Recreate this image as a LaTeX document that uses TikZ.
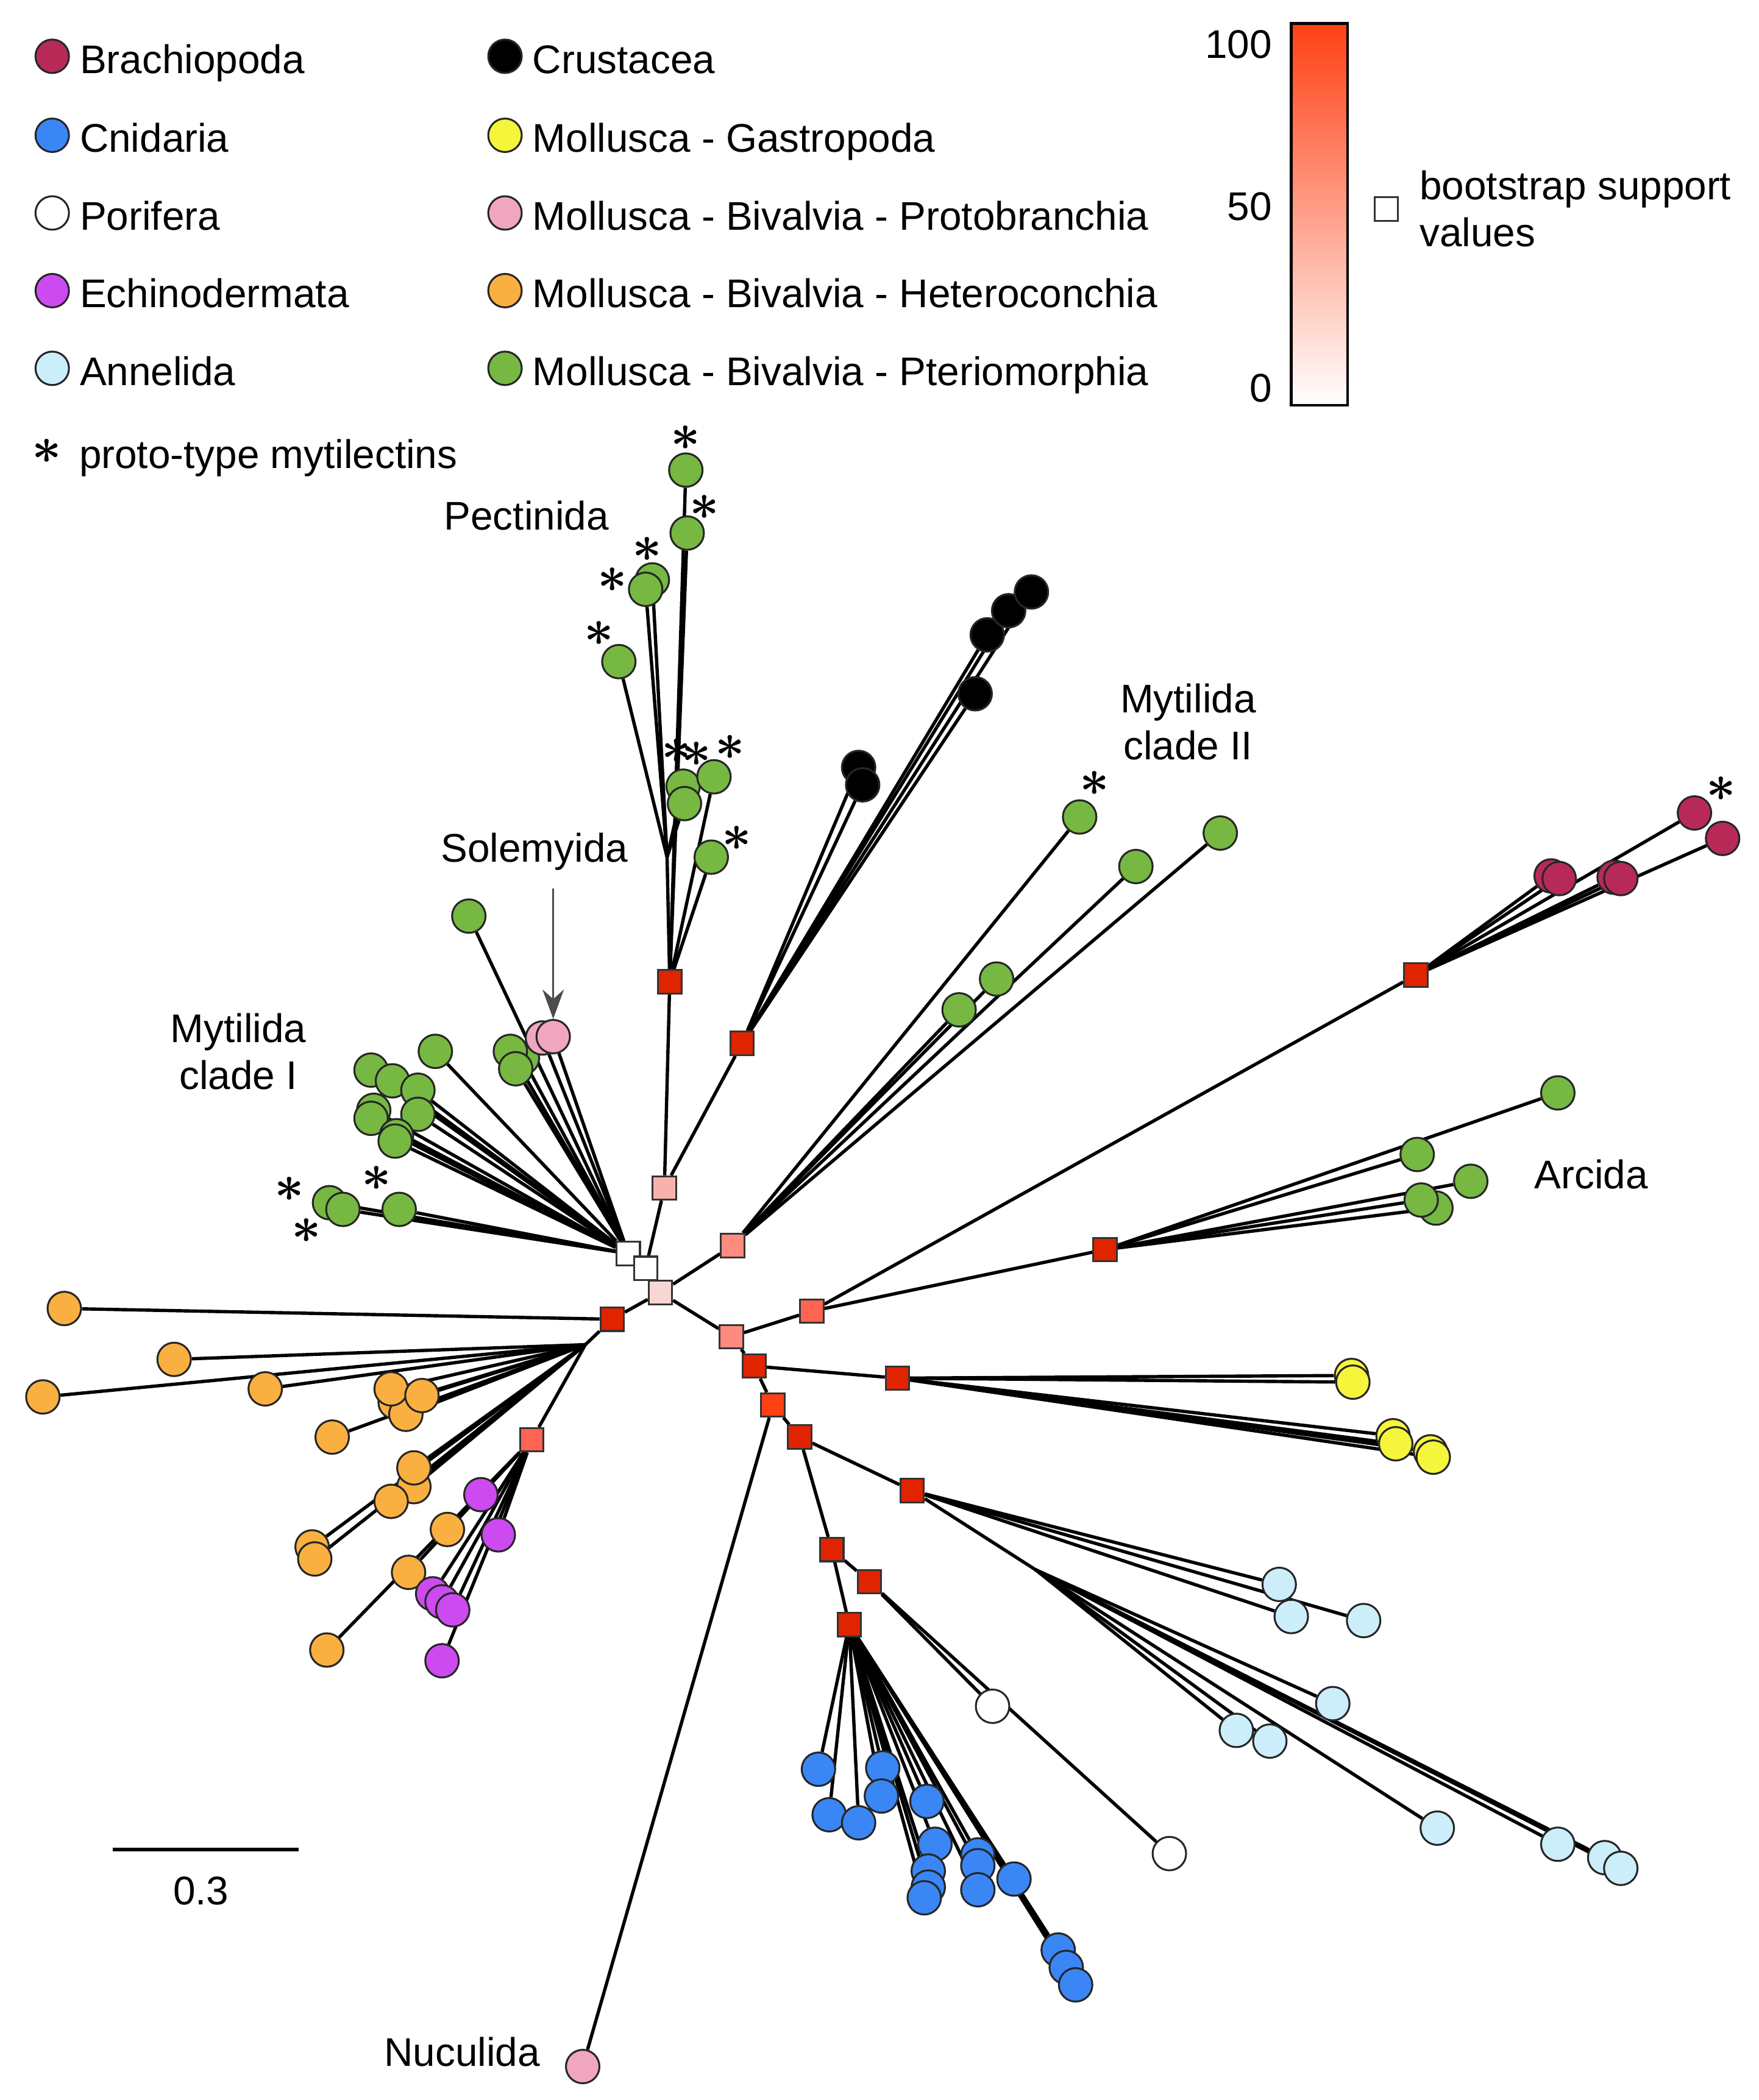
\documentclass[tikz,border=0pt]{standalone}
\usepackage{fontspec}
\setmainfont{Liberation Sans}
\usetikzlibrary{positioning,backgrounds,arrows.meta}

\definecolor{cBra}{RGB}{183,42,88}
\definecolor{cCni}{RGB}{58,134,245}
\definecolor{cPor}{RGB}{255,255,255}
\definecolor{cEch}{RGB}{204,74,240}
\definecolor{cAnn}{RGB}{204,238,250}
\definecolor{cCru}{RGB}{0,0,0}
\definecolor{cGas}{RGB}{245,245,60}
\definecolor{cPro}{RGB}{240,166,190}
\definecolor{cHet}{RGB}{250,176,64}
\definecolor{cPte}{RGB}{118,184,66}
\definecolor{bs100}{RGB}{224,36,0}
\definecolor{bs95}{RGB}{255,64,20}
\definecolor{bs85}{RGB}{255,99,82}
\definecolor{bs75}{RGB}{255,138,128}
\definecolor{bs65}{RGB}{247,178,172}
\definecolor{bs55}{RGB}{248,214,212}
\definecolor{bsMid}{RGB}{255,205,200}

\begin{document}
\begin{tikzpicture}[x=0.1mm,y=-0.1mm,
  every node/.style={font=\fontsize{8.5}{10}\selectfont},
  leaf/.style={circle,draw=black!85,line width=0.4pt,minimum size=2.5mm,inner sep=0pt,fill=#1},
  boot/.style={rectangle,draw=black!80,line width=0.4pt,minimum size=1.75mm,inner sep=0pt,fill=#1},
  branch/.style={line width=0.7pt},
  ast/.style={inner sep=0pt,font=\fontsize{11}{11}\selectfont\boldmath},
  lgtext/.style={text height=0.95em,text depth=0.23em},
  lbl/.style={align=center,inner sep=0pt}]
\useasboundingbox (0,0) rectangle (1313,1568);

% legend
\node[leaf=cBra] (lg1) at (39,42) {};
\node[leaf=cCni] (lg2) at (39,101) {};
\node[leaf=cPor] (lg3) at (39,159) {};
\node[leaf=cEch] (lg4) at (39,217) {};
\node[leaf=cAnn] (lg5) at (39,275) {};
\node[leaf=cCru] (lg6) at (377,42) {};
\node[leaf=cGas] (lg7) at (377,101) {};
\node[leaf=cPro] (lg8) at (377,159) {};
\node[leaf=cHet] (lg9) at (377,217) {};
\node[leaf=cPte] (lg10) at (377,275) {};
\node[lgtext,right=-0.5mm of lg1] (lt1) {Brachiopoda};
\node[lgtext,right=-0.5mm of lg2] (lt2) {Cnidaria};
\node[lgtext,right=-0.5mm of lg3] (lt3) {Porifera};
\node[lgtext,right=-0.5mm of lg4] (lt4) {Echinodermata};
\node[lgtext,right=-0.5mm of lg5] (lt5) {Annelida};
\node[lgtext,right=-0.5mm of lg6] (lt6) {Crustacea};
\node[lgtext,right=-0.5mm of lg7] (lt7) {Mollusca - Gastropoda};
\node[lgtext,right=-0.5mm of lg8] (lt8) {Mollusca - Bivalvia - Protobranchia};
\node[lgtext,right=-0.5mm of lg9] (lt9) {Mollusca - Bivalvia - Heteroconchia};
\node[lgtext,right=-0.5mm of lg10] (lt10) {Mollusca - Bivalvia - Pteriomorphia};
\node[ast] (lgs) at (35,337) {$\ast$};
\node[lgtext,right=0pt of lgs] (lts) {proto-type mytilectins};

% bootstrap colour bar
\node[draw,line width=0.6pt,minimum width=4.2mm,minimum height=28.5mm,inner sep=0pt,
  top color=bs95,middle color=bsMid,bottom color=white] (cbar) at (985,160) {};
\node[anchor=east] (t100) at (962,33) {100};
\node[anchor=east] (t50) at (962,154) {50};
\node[anchor=east] (t0) at (962,290) {0};
\node[boot=white] (bsq) at (1035,156) {};
\node[right=0.3mm of bsq,align=left] (bstext) {bootstrap support\\values};

% clade labels
\node[lbl] (lPec) at (393,385) {Pectinida};
\node[lbl] (lSol) at (399,636) {Solemyida};
\node[lbl] (lMy1) at (178,785) {Mytilida\\clade I};
\node[lbl] (lMy2) at (887,539) {Mytilida\\clade II};
\node[lbl] (lArc) at (1188,877) {Arcida};
\node[lbl] (lNuc) at (345,1532) {Nuculida};

% scale bar
\coordinate (sb1) at (84,1381);
\coordinate (sb2) at (223,1381);
\draw[line width=0.8pt] (sb1) -- (sb2);
\node (sbl) at (150,1412) {0.3};

% internal nodes
\node[boot=bs55] (sC) at (493,965) {};
\node[boot=white] (sW1) at (469,936) {};
\node[boot=white] (sW2) at (482,947) {};
\node[boot=bs65] (sA) at (496,887) {};
\node[boot=bs100] (sPec) at (500,733) {};
\node[boot=bs100] (sCru) at (554,779) {};
\node[boot=bs75] (sB) at (547,930) {};
\node[boot=bs75] (sD) at (546,998) {};
\node[boot=bs85] (sE) at (606,979) {};
\node[boot=bs100] (sArc) at (825,933) {};
\node[boot=bs100] (sBra) at (1057,728) {};
\node[boot=bs100] (sF) at (563,1020) {};
\node[boot=bs100] (sGas) at (670,1029) {};
\node[boot=bs95] (sG) at (577,1049) {};
\node[boot=bs100] (sH) at (597,1073) {};
\node[boot=bs100] (sAnn) at (681,1113) {};
\node[boot=bs100] (sI) at (621,1157) {};
\node[boot=bs100] (sPor) at (649,1181) {};
\node[boot=bs100] (sCni) at (634,1213) {};
\node[boot=bs100] (sHet) at (457,985) {};
\node[boot=bs85] (sEch) at (397,1075) {};
\coordinate (pj) at (498,640);
\coordinate (aj) at (773,1172);
\coordinate (hj) at (437,1004);

% Pectinida
\node[leaf=cPte] (pe1) at (512,351) {};
\node[leaf=cPte] (pe2) at (513,398) {};
\node[leaf=cPte] (pe3) at (487,433) {};
\node[leaf=cPte] (pe4) at (482,440) {};
\node[leaf=cPte] (pe5) at (462,494) {};
\node[leaf=cPte] (pe6) at (510,587) {};
\node[leaf=cPte] (pe7) at (511,600) {};
\node[leaf=cPte] (pe8) at (533,580) {};
\node[leaf=cPte] (pe9) at (531,640) {};
\node[ast] at (512,327) {$\ast$};
\node[ast] at (526,379) {$\ast$};
\node[ast] at (483,410) {$\ast$};
\node[ast] at (457,433) {$\ast$};
\node[ast] at (447,473) {$\ast$};
\node[ast] at (505,561) {$\ast$};
\node[ast] at (520,563) {$\ast$};
\node[ast] at (545,558) {$\ast$};
\node[ast] at (550,626) {$\ast$};

% Crustacea
\node[leaf=cCru] (cr1) at (641,573) {};
\node[leaf=cCru] (cr2) at (644,586) {};
\node[leaf=cCru] (cr3) at (728,518) {};
\node[leaf=cCru] (cr4) at (737,474) {};
\node[leaf=cCru] (cr5) at (753,456) {};
\node[leaf=cCru] (cr6) at (770,442) {};

% Mytilida clade II
\node[leaf=cPte] (mt1) at (806,610) {};
\node[leaf=cPte] (mt2) at (848,647) {};
\node[leaf=cPte] (mt3) at (911,622) {};
\node[leaf=cPte] (mt4) at (744,731) {};
\node[leaf=cPte] (mt5) at (716,754) {};
\node[ast] at (817,585) {$\ast$};

% Brachiopoda
\node[leaf=cBra] (br1) at (1158,654) {};
\node[leaf=cBra] (br2) at (1164,656) {};
\node[leaf=cBra] (br3) at (1205,655) {};
\node[leaf=cBra] (br4) at (1210,656) {};
\node[leaf=cBra] (br5) at (1265,607) {};
\node[leaf=cBra] (br6) at (1286,626) {};
\node[ast] at (1285,589) {$\ast$};

% Arcida
\node[leaf=cPte] (ar1) at (1163,816) {};
\node[leaf=cPte] (ar2) at (1058,862) {};
\node[leaf=cPte] (ar3) at (1098,882) {};
\node[leaf=cPte] (ar5) at (1072,902) {};
\node[leaf=cPte] (ar4) at (1061,896) {};

% Gastropoda
\node[leaf=cGas] (ga1) at (1009,1027) {};
\node[leaf=cGas] (ga2) at (1010,1032) {};
\node[leaf=cGas] (ga3) at (1040,1072) {};
\node[leaf=cGas] (ga4) at (1042,1078) {};
\node[leaf=cGas] (ga5) at (1068,1084) {};
\node[leaf=cGas] (ga6) at (1070,1088) {};

% Annelida
\node[leaf=cAnn] (an1) at (955,1183) {};
\node[leaf=cAnn] (an2) at (964,1207) {};
\node[leaf=cAnn] (an3) at (1018,1210) {};
\node[leaf=cAnn] (an4) at (923,1292) {};
\node[leaf=cAnn] (an5) at (948,1300) {};
\node[leaf=cAnn] (an6) at (995,1272) {};
\node[leaf=cAnn] (an7) at (1073,1365) {};
\node[leaf=cAnn] (an8) at (1163,1377) {};
\node[leaf=cAnn] (an9) at (1198,1387) {};
\node[leaf=cAnn] (an10) at (1210,1395) {};

% Porifera
\node[leaf=cPor] (po1) at (741,1274) {};
\node[leaf=cPor] (po2) at (873,1384) {};

% Cnidaria
\node[leaf=cCni] (cn1) at (611,1321) {};
\node[leaf=cCni] (cn2) at (619,1355) {};
\node[leaf=cCni] (cn3) at (641,1361) {};
\node[leaf=cCni] (cn4) at (659,1320) {};
\node[leaf=cCni] (cn5) at (658,1341) {};
\node[leaf=cCni] (cn6) at (692,1345) {};
\node[leaf=cCni] (cn7) at (698,1377) {};
\node[leaf=cCni] (cn8) at (693,1397) {};
\node[leaf=cCni] (cn9) at (693,1409) {};
\node[leaf=cCni] (cn10) at (690,1417) {};
\node[leaf=cCni] (cn11) at (730,1385) {};
\node[leaf=cCni] (cn12) at (730,1393) {};
\node[leaf=cCni] (cn13) at (730,1411) {};
\node[leaf=cCni] (cn14) at (757,1403) {};
\node[leaf=cCni] (cn15) at (790,1456) {};
\node[leaf=cCni] (cn16) at (796,1469) {};
\node[leaf=cCni] (cn17) at (803,1482) {};

% Nuculida
\node[leaf=cPro] (nu) at (435,1543) {};

% Heteroconchia and Echinodermata
\node[leaf=cHet] (he1) at (48,977) {};
\node[leaf=cHet] (he2) at (130,1015) {};
\node[leaf=cHet] (he3) at (32,1043) {};
\node[leaf=cHet] (he4) at (198,1037) {};
\node[leaf=cHet] (he6) at (295,1047) {};
\node[leaf=cHet] (he7) at (303,1056) {};
\node[leaf=cHet] (he5) at (292,1037) {};
\node[leaf=cHet] (he8) at (315,1042) {};
\node[leaf=cHet] (he9) at (248,1073) {};
\node[leaf=cHet] (he11) at (309,1110) {};
\node[leaf=cHet] (he10) at (309,1096) {};
\node[leaf=cHet] (he12) at (292,1121) {};
\node[leaf=cHet] (he13) at (233,1155) {};
\node[leaf=cHet] (he14) at (235,1164) {};
\node[leaf=cHet] (he15) at (334,1142) {};
\node[leaf=cHet] (he16) at (305,1174) {};
\node[leaf=cHet] (he17) at (244,1232) {};
\node[leaf=cEch] (ec1) at (359,1116) {};
\node[leaf=cEch] (ec2) at (372,1146) {};
\node[leaf=cEch] (ec3) at (323,1190) {};
\node[leaf=cEch] (ec4) at (330,1196) {};
\node[leaf=cEch] (ec5) at (338,1202) {};
\node[leaf=cEch] (ec6) at (330,1240) {};

% Mytilida clade I and Solemyida
\node[leaf=cPte] (my1) at (350,684) {};
\node[leaf=cPte] (my2) at (325,785) {};
\node[leaf=cPte] (my3) at (277,799) {};
\node[leaf=cPte] (my4) at (293,807) {};
\node[leaf=cPte] (my5) at (312,814) {};
\node[leaf=cPte] (my6) at (279,829) {};
\node[leaf=cPte] (my7) at (277,835) {};
\node[leaf=cPte] (my8) at (312,832) {};
\node[leaf=cPte] (my9) at (296,848) {};
\node[leaf=cPte] (my10) at (295,852) {};
\node[leaf=cPte] (my11) at (246,898) {};
\node[leaf=cPte] (my12) at (256,903) {};
\node[leaf=cPte] (my13) at (298,903) {};
\node[leaf=cPte] (my14) at (390,790) {};
\node[leaf=cPte] (my15) at (381,785) {};
\node[leaf=cPte] (my16) at (385,798) {};
\node[leaf=cPro] (pk1) at (405,775) {};
\node[leaf=cPro] (pk2) at (413,774) {};
\node[ast] at (216,888) {$\ast$};
\node[ast] at (229,919) {$\ast$};
\node[ast] at (281,880) {$\ast$};
\draw[black!70,line width=0.4pt,-{Stealth[length=2.2mm,width=1.6mm]},shorten <=1.3mm]
  (lSol.south -| pk2.north) -- (pk2.north);

\begin{pgfonlayer}{background}
\path[branch]
  (sC) edge (sW2) edge (sHet) edge (sB) edge (sD)
  (sW2) edge (sW1) edge (sA)
  (sA) edge (sPec) edge (sCru)
  (sPec) edge (pe1) edge (pe2) edge (pj) edge (pe8) edge (pe9)
  (pj) edge (pe3) edge (pe4) edge (pe5) edge (pe6) edge (pe7)
  (sCru) edge (cr1) edge (cr2) edge (cr3) edge (cr4) edge (cr5) edge (cr6)
  (sB) edge (mt1) edge (mt2) edge (mt3) edge (mt4) edge (mt5)
  (sW1) edge (my1) edge (my2) edge (my3) edge (my4) edge (my5) edge (my6) edge (my7)
        edge (my8) edge (my9) edge (my10) edge (my11) edge (my12) edge (my13)
        edge (my14) edge (my15) edge (my16) edge (pk1) edge (pk2)
  (sD) edge (sE) edge (sF)
  (sE) edge (sArc) edge (sBra)
  (sArc) edge (ar1) edge (ar2) edge (ar3) edge (ar4) edge (ar5)
  (sBra) edge (br1) edge (br2) edge (br3) edge (br4) edge (br5) edge (br6)
  (sF) edge (sGas) edge (sG)
  (sGas) edge (ga1) edge (ga2) edge (ga3) edge (ga4) edge (ga5) edge (ga6)
  (sG) edge (nu) edge (sH)
  (sH) edge (sAnn) edge (sI)
  (sAnn) edge (an1) edge (an2) edge (an3) edge (aj)
  (aj) edge (an4) edge (an5) edge (an6) edge (an7) edge (an8) edge (an9) edge (an10)
  (sI) edge (sPor) edge (sCni)
  (sPor) edge (po1) edge (po2)
  (sCni) edge (cn1) edge (cn2) edge (cn3) edge (cn4) edge (cn5) edge (cn6)
         edge (cn7) edge (cn8) edge (cn9) edge (cn10) edge (cn11) edge (cn12)
         edge (cn13) edge (cn14) edge (cn15) edge (cn16) edge (cn17)
  (sHet) edge (he1) edge (hj)
  (hj) edge (he2) edge (he3) edge (he4) edge (he5) edge (he6) edge (he7) edge (he8)
       edge (he9) edge (he10) edge (he11) edge (he12) edge (he13) edge (he14) edge (sEch)
  (sEch) edge (he15) edge (he16) edge (he17) edge (ec1) edge (ec2) edge (ec3)
         edge (ec4) edge (ec5) edge (ec6);
\end{pgfonlayer}
\end{tikzpicture}
\end{document}
